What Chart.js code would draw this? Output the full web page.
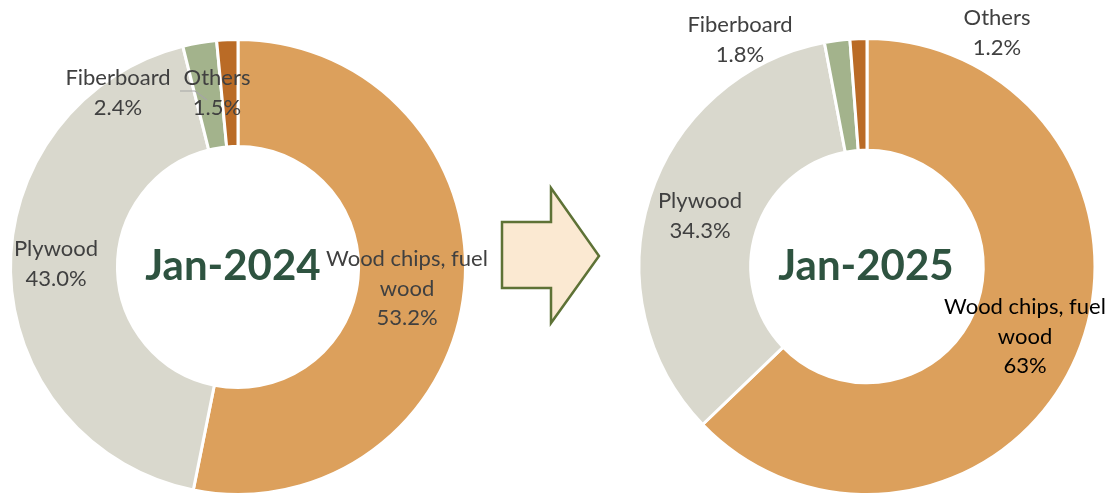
<!DOCTYPE html>
<html>
<head>
<meta charset="utf-8">
<script src="https://cdn.jsdelivr.net/npm/chart.js@4"></script>
<style>
    html, body { margin: 0; padding: 0; background: #fff; overflow: hidden; }
    body { width: 1114px; height: 494px; position: relative; }
    .box { position: absolute; top: 0; height: 500px; }
    #box2024 { left: 0; width: 500px; }
    #box2025 { left: 620px; width: 494px; }
    #arrow { position: absolute; left: 0; top: 0; }
</style>
</head>
<body>
<div class="box" id="box2024"><canvas id="chart2024"></canvas></div>
<svg id="arrow" width="1114" height="494">
    <polygon points="502,222 551,222 551,188 599,256 551,323 551,288 502,288"
             fill="#FBE9D2" stroke="#5E7236" stroke-width="2.5" stroke-linejoin="miter"/>
</svg>
<div class="box" id="box2025"><canvas id="chart2025"></canvas></div>
<script>
// Datos
const categories = ['Wood chips, fuel wood', 'Plywood', 'Fiberboard', 'Others'];
const values2024 = [53.2, 43.0, 2.4, 1.5];
const values2025 = [63, 34.3, 1.8, 1.2];
const sliceColors = ['#DCA05C', '#D9D8CD', '#A3B38C', '#BA6B26'];

const labelFont = '22px Lato, "Open Sans", sans-serif';
const titleFont = 'bold 42px Lato, "Open Sans", sans-serif';

// Plugin para etiquetas y título central
const labelPlugin = {
    id: 'sliceLabels',
    afterDraw(chart, args, opts) {
        const ctx = chart.ctx;
        const values = chart.data.datasets[0].data;
        ctx.save();
        ctx.textAlign = 'center';
        ctx.textBaseline = 'middle';

        // título
        ctx.font = titleFont;
        ctx.fillStyle = '#2E5340';
        ctx.fillText(opts.title, opts.titlePos[0], opts.titlePos[1]);

        // líneas guía
        (opts.leaders || []).forEach(l => {
            ctx.strokeStyle = '#A6A6A6';
            ctx.lineWidth = 1.2;
            ctx.beginPath();
            ctx.moveTo(l[0], l[1]);
            ctx.lineTo(l[2], l[3]);
            ctx.lineTo(l[4], l[5]);
            ctx.stroke();
        });

        ctx.font = labelFont;
        opts.lines.forEach((lines, i) => {
            const pos = opts.positions[i];
            const text = lines.concat([opts.format(values[i])]);
            ctx.fillStyle = opts.colors[i];
            text.forEach((t, k) => {
                ctx.fillText(t, pos[0], pos[1] + k * opts.lineHeight);
            });
        });
        ctx.restore();
    }
};

function makeDoughnut(id, values, cutout, padding, labelOpts) {
    const el = document.getElementById(id);
    return new Chart(el, {
        type: 'doughnut',
        data: {
            labels: categories,
            datasets: [{
                data: values,
                backgroundColor: sliceColors,
                borderColor: '#ffffff',
                borderWidth: 3
            }]
        },
        options: {
            responsive: true,
            maintainAspectRatio: false,
            animation: false,
            cutout: cutout,
            layout: { padding: padding },
            plugins: {
                legend: { display: false },
                tooltip: { enabled: false },
                sliceLabels: labelOpts
            }
        },
        plugins: [labelPlugin]
    });
}

makeDoughnut('chart2024', values2024, '53%',
    { left: 9, right: 33, top: 38, bottom: 4 },
    {
        title: 'Jan-2024',
        titlePos: [233, 266],
        lines: [['Wood chips, fuel', 'wood'], ['Plywood'], ['Fiberboard'], ['Others']],
        positions: [[407, 259], [56, 249], [118, 78], [217, 78]],
        colors: ['#404040', '#404040', '#404040', '#404040'],
        lineHeight: 29.5,
        leaders: [[180, 91, 195, 91, 207, 100]],
        format: v => v.toFixed(1) + '%'
    });

makeDoughnut('chart2025', values2025, '51%',
    { left: 17, right: 17, top: 37, bottom: 4 },
    {
        title: 'Jan-2025',
        titlePos: [246, 266],
        lines: [['Wood chips, fuel', 'wood'], ['Plywood'], ['Fiberboard'], ['Others']],
        positions: [[405, 307], [80, 201], [120, 25], [377, 18]],
        colors: ['#000000', '#404040', '#404040', '#404040'],
        lineHeight: 29.5,
        leaders: [],
        format: v => v + '%'
    });
</script>
</body>
</html>
